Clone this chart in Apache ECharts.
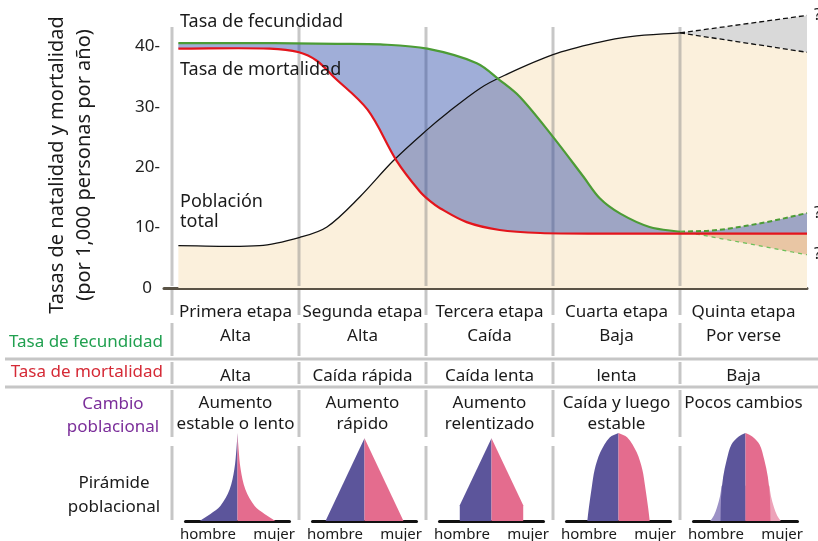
<!DOCTYPE html>
<html>
<head>
<meta charset="utf-8">
<script src="https://cdn.jsdelivr.net/npm/echarts@6/dist/echarts.min.js"></script>
<style>
  html, body { margin: 0; padding: 0; background: #fff; }
  #chart { width: 818px; height: 541px; }
</style>
</head>
<body>
<div id="chart"></div>
<script>
// etapas: el eje x va en unidades de etapa (0..5)
const stageBounds = [0, 1, 2, 3, 4, 5];
const stageNames = ["Primera etapa", "Segunda etapa", "Tercera etapa", "Cuarta etapa", "Quinta etapa"];
const fecundidadRow = ["Alta", "Alta", "Caída", "Baja", "Por verse"];
const mortalidadRow = ["Alta", "Caída rápida", "Caída lenta", "lenta", "Baja"];
const cambioRow = ["Aumento\nestable o lento", "Aumento\nrápido", "Aumento\nrelentizado", "Caída y luego\nestable", "Pocos cambios"];
const yTicks = [0, 10, 20, 30, 40];

// curvas [etapa, tasa]
const fecundidad = [[0.05, 40.5], [0.8, 40.5], [1.3, 40.4], [1.64, 40.3], [2.01, 39.6], [2.4, 37.2], [2.58, 34.4],
  [2.74, 31.6], [3.0, 25.0], [3.24, 18.4], [3.37, 14.8], [3.53, 12.3], [3.76, 10.1], [4.0, 9.3]];
const fecundidadAlta = [[4.0, 9.3], [4.3, 9.6], [4.68, 10.9], [5.0, 12.4]];
const fecundidadBaja = [[4.0, 9.3], [4.16, 8.8], [5.0, 5.5]];
const mortalidad = [[0.05, 39.6], [0.77, 39.6], [1.0, 39.0], [1.14, 37.6], [1.27, 35.0], [1.54, 29.5], [1.77, 21.0],
  [1.95, 16.0], [2.03, 14.4], [2.11, 13.2], [2.32, 10.9], [2.58, 9.6], [2.9, 9.1], [3.37, 9.0], [5.0, 9.0]];
const poblacion = [[0.05, 7.0], [0.69, 7.0], [1.01, 8.4], [1.22, 10.1], [1.48, 15.1], [1.74, 21.0], [2.01, 26.2],
  [2.17, 29.0], [2.43, 33.1], [2.62, 35.2], [3.0, 38.6], [3.35, 40.6], [3.61, 41.6], [4.0, 42.2]];
const poblacionAlta = [[4.0, 42.2], [5.0, 45.1]];
const poblacionBaja = [[4.0, 42.2], [5.0, 39.0]];
const dudas = [[5.0, 45.1], [5.0, 12.4], [5.0, 5.5]];

// pirámides: perfil [semiancho, altura] de la cima a la base
const piramides = [
  [[0, 1.0], [0.02, 0.82], [0.06, 0.59], [0.15, 0.36], [0.33, 0.17], [0.52, 0.08], [0.73, 0]],
  [[0, 0.94], [0.75, 0]],
  [[0, 0.94], [0.61, 0.18], [0.61, 0]],
  [[0, 1.0], [0.17, 0.95], [0.35, 0.78], [0.46, 0.58], [0.51, 0.4], [0.57, 0.15], [0.6, 0]],
  [[0, 1.0], [0.13, 0.96], [0.27, 0.87], [0.36, 0.7], [0.43, 0.5], [0.47, 0.27], [0.48, 0]],
];
const piramideSuave = [true, false, false, true, true];
const colaQuinta = [[0.46, 0.4], [0.49, 0.28], [0.55, 0.15], [0.61, 0.06], [0.68, 0]];

const FONT = '"Noto Sans", sans-serif';
const chart = echarts.init(document.getElementById("chart"));

// curva suave que pasa por los puntos (pixeles)
const curve = (pts, start) => {
  let d = (start ? "M" : " L") + pts[0][0] + " " + pts[0][1];
  const dist = (a, b) => Math.hypot(b[0] - a[0], b[1] - a[1]);
  for (let i = 0; i < pts.length - 1; i++) {
    const p0 = pts[i - 1] || pts[i], p1 = pts[i], p2 = pts[i + 1], p3 = pts[i + 2] || p2;
    const d01 = dist(p0, p1), d12 = dist(p1, p2), d23 = dist(p2, p3);
    const k1 = d12 / (d01 + d12 || 1) / 3, k2 = d12 / (d12 + d23 || 1) / 3;
    const c1 = [p1[0] + (p2[0] - p0[0]) * k1, p1[1] + (p2[1] - p0[1]) * k1];
    const c2 = [p2[0] - (p3[0] - p1[0]) * k2, p2[1] - (p3[1] - p1[1]) * k2];
    d += " C" + c1.join(" ") + " " + c2.join(" ") + " " + p2.join(" ");
  }
  return d;
};
const straight = (pts) => "M" + pts.map((p) => p.join(" ")).join(" L");

const curvesSeries = {
  type: "custom",
  coordinateSystem: "cartesian2d",
  silent: true,
  data: [[0, 0]],
  renderItem: (params, api) => {
    const px = (pts) => pts.map((p) => api.coord(p));
    const rev = (pts) => pts.slice().reverse();
    const first = poblacion[0], lastRed = mortalidad[mortalidad.length - 1];
    const kids = [];
    // gris entre las dos proyecciones de poblacion
    kids.push({ type: "path", shape: { pathData: curve(px(poblacionAlta), true) + curve(px(rev(poblacionBaja)), false) + " Z" }, style: { fill: "#d9d9d9" } });
    // beige bajo la poblacion
    const b0 = api.coord([5, 0]), b1 = api.coord([first[0], 0]);
    kids.push({ type: "path", shape: { pathData: curve(px(poblacion), true) + curve(px(poblacionBaja), false) + " L" + b0.join(" ") + " L" + b1.join(" ") + " Z" }, style: { fill: "#fbf0dc" } });
    // separadores de etapas
    stageBounds.slice(0, 5).forEach((b) => {
      const top = api.coord([b, 43.2]), bot = api.coord([b, 0]);
      kids.push({ type: "line", shape: { x1: top[0], y1: top[1], x2: bot[0], y2: bot[1] - 2 }, style: { stroke: "rgba(130,130,130,0.45)", lineWidth: 3 } });
    });
    // azul entre fecundidad y mortalidad
    kids.push({ type: "path", shape: { pathData: curve(px(fecundidad), true) + curve(px(fecundidadAlta), false) + curve(px(rev(mortalidad)), false) + " Z" }, style: { fill: "rgba(35,67,165,0.43)" } });
    // naranja cuando la fecundidad cae bajo la mortalidad
    kids.push({ type: "path", shape: { pathData: curve(px(fecundidadBaja), true) + " L" + api.coord(lastRed).join(" ") + " Z" }, style: { fill: "rgba(200,120,60,0.35)" } });
    const stroke = (pts, color, width, dash) => ({
      type: "path",
      shape: { pathData: curve(px(pts), true) },
      style: { fill: "none", stroke: color, lineWidth: width, lineDash: dash || null },
    });
    kids.push(stroke(poblacion, "#111", 1.3));
    kids.push(stroke(poblacionAlta, "#111", 1.3, [5, 3]));
    kids.push(stroke(poblacionBaja, "#111", 1.3, [5, 3]));
    kids.push(stroke(fecundidad, "#4c9c35", 2.2));
    kids.push(stroke(fecundidadAlta, "#4c9c35", 2, [5, 3]));
    kids.push(stroke(fecundidadBaja, "#6cc05a", 1.2, [4, 4]));
    kids.push(stroke(mortalidad, "#e3151c", 2.2));
    return { type: "group", children: kids };
  },
};

const mainGrid = { left: 164, right: 11, top: 16, bottom: 253 };
const mainX = {
  type: "value", min: -0.063, max: 5,
  axisLine: { lineStyle: { color: "#5a5346", width: 3 } },
  axisTick: { show: false }, axisLabel: { show: false }, splitLine: { show: false },
};
const mainY = {
  type: "value", min: 0, max: 45, interval: 10,
  axisLine: { show: false }, axisTick: { show: false }, splitLine: { show: false },
  axisLabel: {
    showMaxLabel: false, margin: 4, color: "#222", fontSize: 17, fontFamily: FONT,
    formatter: (v) => (yTicks.indexOf(v) > 0 ? v + "-" : "{z|" + v + "}"),
    rich: { z: { fontSize: 17, fontFamily: FONT, color: "#222", padding: [0, 8, 0, 0] } },
  },
};

chart.setOption({ grid: [mainGrid], xAxis: [mainX], yAxis: [mainY], series: [curvesSeries] });

const colX = stageBounds.map((b) => chart.convertToPixel({ xAxisIndex: 0 }, b));
const centers = stageNames.map((_, i) => (colX[i] + colX[i + 1]) / 2);

// pirámides: un grid pequeño por etapa
const PURPLE = "#5c559b", PINK = "#e46c8e";
const pyrGrids = [], pyrX = [], pyrY = [], pyrSeries = [];
piramides.forEach((prof, i) => {
  const gi = i + 1;
  pyrGrids.push({ left: centers[i] + 2 - 52, width: 104, top: 433, height: 88 });
  pyrX.push({ gridIndex: gi, type: "value", min: -1, max: 1, axisLine: { onZero: false, lineStyle: { color: "#111", width: 3 } }, axisTick: { show: false }, axisLabel: { show: false }, splitLine: { show: false } });
  pyrY.push({ gridIndex: gi, type: "value", min: 0, max: 1, show: false });
  pyrSeries.push({
    type: "custom", coordinateSystem: "cartesian2d", xAxisIndex: gi, yAxisIndex: gi, silent: true, z: 3,
    data: [[0, 0]],
    renderItem: (params, api) => {
      const half = (pts, sign, color, smooth) => {
        const p = pts.map(([w, h]) => api.coord([sign * w, h]));
        const base = api.coord([0, 0]), top = api.coord([0, pts[0][1]]);
        const d = (smooth ? curve(p, true) : straight(p)) + " L" + base.join(" ") + " L" + top.join(" ") + " Z";
        return { type: "path", shape: { pathData: d }, style: { fill: color } };
      };
      const kids = [];
      if (i === 4) {
        kids.push(half(colaQuinta, -1, "#9c92c6", true), half(colaQuinta, 1, "#eda3b9", true));
      }
      kids.push(half(prof, -1, PURPLE, piramideSuave[i]), half(prof, 1, PINK, piramideSuave[i]));
      return { type: "group", children: kids };
    },
  });
});

const txt = (text, x, y, o = {}) => ({
  type: "text", x, y, z: 10, rotation: o.rotation || 0,
  style: {
    text, fill: o.color || "#1a1a1a", font: (o.size || 17) + "px " + FONT,
    textAlign: o.align || "center", textVerticalAlign: o.vAlign || "middle", lineHeight: o.lh || 21,
  },
});
const seg = (x1, y1, x2, y2) => ({ type: "line", z: 1, shape: { x1, y1, x2, y2 }, style: { stroke: "#c6c6c6", lineWidth: 3 } });

const graphics = [];
graphics.push(txt("Tasas de natalidad y mortalidad\n(por 1,000 personas por año)", 71, 165, { rotation: Math.PI / 2, size: 20, lh: 27 }));
graphics.push(txt("Tasa de fecundidad", 180, 22, { align: "left", size: 18 }));
graphics.push(txt("Tasa de mortalidad", 180, 70, { align: "left", size: 18 }));
graphics.push(txt("Población\ntotal", 180, 212, { align: "left", size: 18, lh: 20 }));
dudas.forEach((p) => {
  const q = chart.convertToPixel({ xAxisIndex: 0, yAxisIndex: 0 }, p);
  graphics.push(txt("?", q[0] + 7, q[1], { align: "left", size: 16 }));
});
// tabla
graphics.push(seg(5, 359, 818, 359), seg(5, 387, 818, 387));
[[290, 315], [323, 356], [362, 384], [390, 437], [446, 520]].forEach(([a, b]) => {
  colX.slice(0, 5).forEach((x) => graphics.push(seg(x, a, x, b)));
});
graphics.push(txt("Tasa de fecundidad", 163, 342, { align: "right", color: "#21a050" }));
graphics.push(txt("Tasa de mortalidad", 163, 372, { align: "right", color: "#d52a36" }));
graphics.push(txt("Cambio\npoblacional", 113, 416, { color: "#7b2e9a", lh: 23 }));
graphics.push(txt("Pirámide\npoblacional", 114, 495, { lh: 24 }));
stageNames.forEach((name, i) => {
  const cx = centers[i];
  graphics.push(txt(name, cx, 312));
  graphics.push(txt(fecundidadRow[i], cx, 336));
  graphics.push(txt(mortalidadRow[i], cx, 376));
  graphics.push(txt(cambioRow[i], cx, 393, { vAlign: "top" }));
  graphics.push(txt("hombre", colX[i] + 8, 535, { align: "left", size: 15 }));
  graphics.push(txt("mujer", colX[i + 1] - 4, 535, { align: "right", size: 15 }));
});

chart.setOption({
  grid: [mainGrid, ...pyrGrids],
  xAxis: [mainX, ...pyrX],
  yAxis: [mainY, ...pyrY],
  series: [curvesSeries, ...pyrSeries],
  graphic: graphics,
});
</script>
</body>
</html>
